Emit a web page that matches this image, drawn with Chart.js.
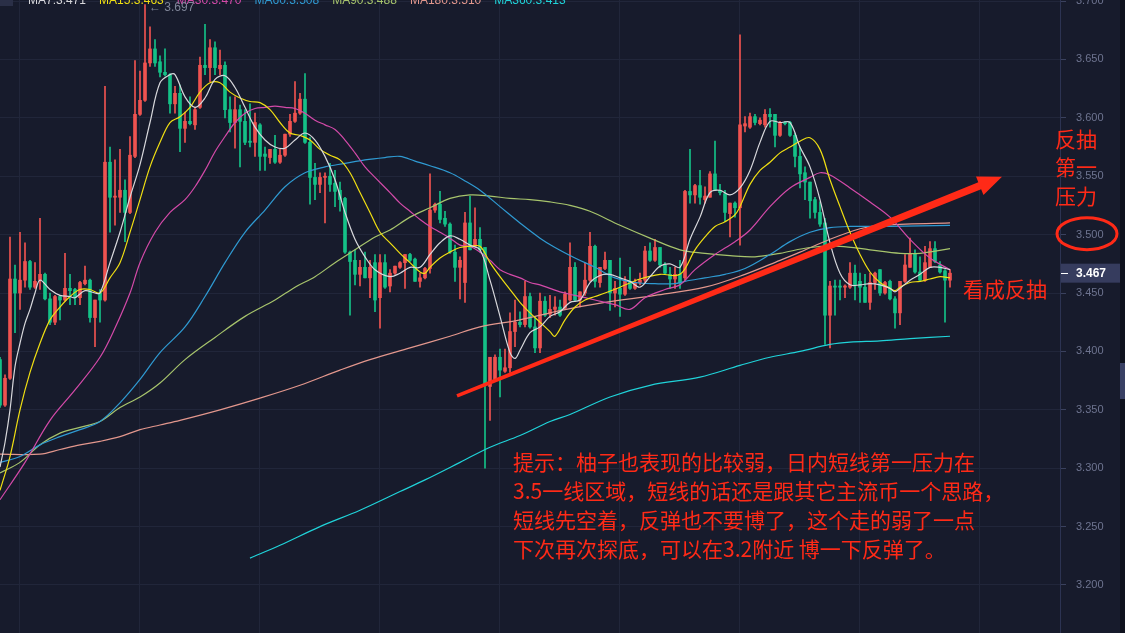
<!DOCTYPE html>
<html>
<head>
<meta charset="utf-8">
<script src="https://cdn.jsdelivr.net/npm/chart.js@4.4.0/dist/chart.umd.min.js"></script>
<style>
  html, body { margin: 0; padding: 0; background: #171b2c; overflow: hidden; }
  canvas { display: block; }
</style>
</head>
<body>
<canvas id="kline" width="1125" height="633"></canvas>
<script>
// ─── DATA ─────────────────────────────────────────────────
// one row per candle: [open, high, low, close]
const OHLC = [
  [3.393,3.395,3.352,3.354],[3.354,3.380,3.353,3.377],[3.377,3.498,3.376,3.462],[3.462,3.474,3.416,3.450],
  [3.450,3.502,3.436,3.461],[3.461,3.493,3.455,3.477],[3.477,3.478,3.453,3.455],[3.455,3.476,3.454,3.460],
  [3.461,3.514,3.453,3.466],[3.466,3.467,3.444,3.445],[3.445,3.450,3.423,3.425],[3.425,3.448,3.423,3.447],
  [3.447,3.448,3.427,3.444],[3.444,3.484,3.443,3.454],[3.454,3.466,3.440,3.452],[3.453,3.454,3.440,3.446],
  [3.446,3.460,3.440,3.459],[3.458,3.473,3.457,3.461],[3.461,3.462,3.425,3.429],[3.429,3.444,3.404,3.444],
  [3.450,3.453,3.425,3.444],[3.444,3.627,3.443,3.562],[3.562,3.575,3.502,3.532],[3.532,3.564,3.508,3.533],
  [3.532,3.573,3.519,3.538],[3.538,3.547,3.494,3.519],[3.519,3.584,3.518,3.568],[3.567,3.649,3.566,3.603],
  [3.603,3.640,3.602,3.615],[3.615,3.697,3.614,3.647],[3.647,3.678,3.644,3.659],[3.659,3.667,3.644,3.647],
  [3.648,3.653,3.635,3.639],[3.639,3.659,3.636,3.637],[3.637,3.638,3.604,3.612],[3.612,3.627,3.604,3.621],
  [3.621,3.628,3.571,3.591],[3.591,3.605,3.579,3.597],[3.597,3.618,3.594,3.595],[3.594,3.609,3.590,3.607],
  [3.609,3.652,3.608,3.645],[3.645,3.680,3.637,3.643],[3.643,3.667,3.631,3.660],[3.660,3.665,3.637,3.643],
  [3.642,3.658,3.637,3.645],[3.645,3.648,3.600,3.607],[3.607,3.618,3.588,3.596],[3.596,3.618,3.574,3.607],
  [3.607,3.611,3.558,3.597],[3.597,3.607,3.577,3.579],[3.580,3.612,3.575,3.579],[3.579,3.604,3.567,3.596],
  [3.594,3.595,3.555,3.567],[3.569,3.575,3.555,3.567],[3.566,3.573,3.561,3.573],[3.573,3.585,3.561,3.562],
  [3.562,3.573,3.561,3.568],[3.568,3.586,3.567,3.586],[3.586,3.603,3.584,3.597],[3.597,3.631,3.596,3.604],
  [3.604,3.621,3.603,3.616],[3.616,3.638,3.578,3.579],[3.579,3.583,3.526,3.549],[3.549,3.561,3.530,3.543],
  [3.543,3.553,3.536,3.549],[3.549,3.553,3.510,3.550],[3.550,3.561,3.537,3.543],[3.544,3.555,3.524,3.537],
  [3.538,3.545,3.520,3.530],[3.531,3.532,3.484,3.485],[3.485,3.486,3.431,3.477],[3.478,3.487,3.457,3.466],
  [3.466,3.478,3.456,3.472],[3.472,3.485,3.463,3.463],[3.463,3.478,3.446,3.472],[3.476,3.483,3.434,3.444],
  [3.446,3.483,3.420,3.476],[3.476,3.483,3.454,3.455],[3.456,3.470,3.451,3.467],[3.467,3.473,3.466,3.473],
  [3.472,3.477,3.471,3.476],[3.476,3.483,3.454,3.483],[3.483,3.484,3.477,3.478],[3.479,3.480,3.460,3.460],
  [3.460,3.467,3.455,3.463],[3.463,3.472,3.462,3.471],[3.471,3.552,3.467,3.521],[3.521,3.527,3.519,3.526],
  [3.526,3.537,3.510,3.513],[3.514,3.520,3.507,3.509],[3.509,3.510,3.484,3.485],[3.485,3.491,3.460,3.472],
  [3.472,3.481,3.445,3.478],[3.459,3.519,3.442,3.510],[3.510,3.533,3.487,3.487],[3.490,3.523,3.490,3.496],
  [3.496,3.506,3.485,3.487],[3.489,3.489,3.300,3.371],[3.370,3.395,3.341,3.395],[3.376,3.397,3.374,3.395],
  [3.395,3.402,3.361,3.384],[3.383,3.402,3.382,3.386],[3.386,3.433,3.382,3.417],[3.417,3.444,3.404,3.425],
  [3.425,3.434,3.421,3.423],[3.423,3.460,3.421,3.447],[3.447,3.450,3.420,3.421],[3.421,3.430,3.399,3.403],
  [3.403,3.450,3.399,3.443],[3.443,3.447,3.430,3.431],[3.432,3.448,3.429,3.436],[3.436,3.447,3.431,3.438],
  [3.438,3.444,3.430,3.431],[3.437,3.451,3.436,3.449],[3.444,3.493,3.443,3.472],[3.472,3.476,3.443,3.444],
  [3.444,3.451,3.438,3.451],[3.450,3.476,3.448,3.461],[3.461,3.502,3.460,3.490],[3.490,3.491,3.455,3.460],
  [3.459,3.472,3.455,3.472],[3.471,3.485,3.470,3.478],[3.478,3.478,3.435,3.450],[3.450,3.460,3.438,3.454],
  [3.454,3.480,3.430,3.449],[3.449,3.464,3.448,3.460],[3.460,3.472,3.453,3.454],[3.454,3.462,3.453,3.459],
  [3.459,3.467,3.457,3.461],[3.461,3.490,3.459,3.486],[3.486,3.493,3.477,3.478],[3.478,3.496,3.477,3.489],
  [3.489,3.489,3.472,3.474],[3.474,3.476,3.466,3.467],[3.466,3.472,3.454,3.462],[3.462,3.472,3.454,3.466],
  [3.466,3.478,3.454,3.459],[3.463,3.538,3.461,3.537],[3.537,3.573,3.527,3.534],[3.534,3.543,3.527,3.542],
  [3.542,3.555,3.526,3.532],[3.530,3.541,3.527,3.533],[3.532,3.554,3.532,3.552],[3.552,3.580,3.538,3.538],
  [3.538,3.543,3.534,3.536],[3.535,3.538,3.511,3.519],[3.518,3.527,3.498,3.527],[3.527,3.528,3.515,3.523],
  [3.523,3.671,3.491,3.594],[3.593,3.601,3.588,3.595],[3.592,3.604,3.591,3.601],[3.601,3.603,3.594,3.596],
  [3.595,3.600,3.594,3.598],[3.594,3.607,3.592,3.603],[3.603,3.608,3.592,3.601],[3.603,3.603,3.575,3.585],
  [3.585,3.597,3.584,3.596],[3.596,3.597,3.594,3.595],[3.596,3.597,3.584,3.585],[3.585,3.587,3.558,3.567],
  [3.567,3.575,3.540,3.552],[3.553,3.558,3.530,3.545],[3.545,3.545,3.514,3.529],[3.530,3.532,3.514,3.519],
  [3.519,3.528,3.507,3.509],[3.510,3.514,3.406,3.431],[3.431,3.460,3.403,3.456],[3.456,3.461,3.431,3.455],
  [3.456,3.461,3.444,3.455],[3.455,3.457,3.446,3.456],[3.455,3.476,3.454,3.467],[3.467,3.474,3.444,3.457],
  [3.460,3.467,3.442,3.455],[3.455,3.466,3.442,3.442],[3.442,3.467,3.436,3.459],[3.459,3.468,3.453,3.467],
  [3.470,3.470,3.448,3.450],[3.450,3.460,3.449,3.459],[3.460,3.461,3.444,3.445],[3.445,3.447,3.420,3.433],
  [3.433,3.460,3.423,3.460],[3.460,3.483,3.459,3.474],[3.472,3.497,3.472,3.484],[3.484,3.487,3.467,3.468],
  [3.468,3.481,3.460,3.461],[3.461,3.490,3.460,3.476],[3.472,3.494,3.472,3.488],[3.488,3.494,3.476,3.477],
  [3.474,3.477,3.467,3.468],[3.469,3.470,3.425,3.461],[3.461,3.470,3.455,3.467]
];

// moving averages as [candle index, value]
const MA7 = [
  [0,3.301],[1,3.322],[2,3.350],[3,3.387],[4,3.407],[5,3.424],[6,3.436],[7,3.450],[8,3.461],[10,3.453],
  [12,3.448],[14,3.447],[15,3.446],[17,3.452],[19,3.450],[20,3.450],[22,3.476],[24,3.502],[26,3.532],
  [28,3.560],[30,3.596],[32,3.630],[34,3.637],[35,3.637],[37,3.618],[39,3.609],[41,3.617],[43,3.633],
  [45,3.636],[47,3.626],[49,3.609],[51,3.592],[53,3.581],[55,3.575],[57,3.574],[59,3.581],[61,3.587],
  [63,3.581],[65,3.567],[67,3.547],[69,3.519],[71,3.496],[73,3.481],[75,3.470],[78,3.464],[80,3.467],
  [82,3.472],[84,3.472],[86,3.483],[88,3.493],[90,3.499],[92,3.496],[94,3.491],[96,3.487],[98,3.461],
  [100,3.430],[102,3.399],[103,3.394],[104,3.401],[106,3.416],[108,3.421],[110,3.430],[112,3.434],
  [114,3.442],[116,3.444],[118,3.459],[120,3.465],[122,3.466],[124,3.463],[126,3.460],[128,3.455],
  [130,3.464],[132,3.473],[134,3.475],[136,3.472],[138,3.496],[140,3.515],[142,3.536],[144,3.538],
  [146,3.534],[148,3.540],[150,3.555],[152,3.579],[154,3.597],[156,3.596],[158,3.596],[160,3.575],
  [162,3.558],[164,3.530],[166,3.493],[168,3.467],[170,3.457],[172,3.457],[174,3.458],[176,3.457],
  [178,3.454],[179,3.451],[180,3.454],[182,3.461],[184,3.466],[186,3.472],[188,3.472],[190,3.470]
];
const MA15 = [
  [0,3.281],[2,3.310],[4,3.350],[6,3.382],[8,3.407],[10,3.427],[12,3.438],[14,3.447],[16,3.453],
  [18,3.453],[20,3.450],[22,3.463],[24,3.476],[26,3.502],[28,3.530],[30,3.558],[32,3.579],[34,3.596],
  [36,3.601],[38,3.609],[40,3.622],[42,3.630],[44,3.630],[46,3.622],[48,3.617],[50,3.614],[52,3.613],
  [54,3.607],[56,3.596],[58,3.587],[60,3.585],[62,3.581],[64,3.573],[66,3.568],[68,3.564],[70,3.553],
  [72,3.536],[74,3.519],[76,3.502],[78,3.493],[80,3.484],[82,3.476],[84,3.468],[85,3.467],[86,3.472],
  [88,3.480],[90,3.485],[92,3.489],[94,3.490],[96,3.490],[98,3.476],[100,3.464],[102,3.453],[104,3.442],
  [106,3.433],[108,3.425],[110,3.417],[111,3.413],[113,3.427],[115,3.438],[117,3.444],[119,3.447],
  [121,3.450],[124,3.455],[128,3.462],[132,3.466],[136,3.466],[139,3.487],[141,3.498],[143,3.507],
  [145,3.511],[147,3.517],[148,3.524],[150,3.543],[152,3.555],[154,3.562],[156,3.570],[158,3.575],
  [160,3.580],[162,3.583],[164,3.573],[166,3.547],[168,3.524],[170,3.502],[172,3.483],[174,3.468],
  [176,3.459],[178,3.454],[179,3.452],[180,3.455],[182,3.459],[184,3.460],[186,3.462],[188,3.464],[190,3.463]
];
const MA30 = [
  [0,3.273],[5,3.305],[10,3.341],[15,3.367],[20,3.395],[23,3.420],[26,3.450],[28,3.476],[31,3.502],
  [34,3.519],[37,3.530],[39,3.541],[41,3.555],[43,3.571],[45,3.584],[47,3.596],[49,3.604],[51,3.608],
  [53,3.609],[55,3.610],[57,3.609],[59,3.608],[61,3.604],[63,3.598],[65,3.594],[67,3.590],[69,3.581],
  [71,3.570],[73,3.558],[75,3.549],[78,3.536],[80,3.527],[82,3.520],[84,3.513],[86,3.507],[88,3.502],
  [90,3.497],[92,3.491],[94,3.490],[96,3.485],[98,3.478],[100,3.470],[102,3.466],[104,3.463],[106,3.459],
  [108,3.457],[110,3.454],[112,3.451],[115,3.448],[119,3.444],[123,3.440],[126,3.436],[129,3.446],
  [133,3.453],[136,3.457],[139,3.470],[143,3.483],[147,3.494],[150,3.504],[154,3.524],[158,3.540],
  [162,3.549],[164,3.553],[166,3.551],[170,3.540],[174,3.528],[178,3.515],[182,3.496],[186,3.480],[190,3.470]
];
const MA60 = [
  [0,3.305],[4,3.310],[8,3.320],[12,3.327],[16,3.333],[20,3.340],[24,3.356],[28,3.376],[32,3.399],
  [37,3.421],[41,3.447],[45,3.476],[49,3.502],[53,3.521],[57,3.541],[61,3.553],[65,3.558],[69,3.561],
  [73,3.564],[77,3.566],[80,3.567],[83,3.563],[86,3.559],[90,3.553],[93,3.546],[96,3.538],[100,3.524],
  [104,3.510],[108,3.497],[111,3.489],[115,3.480],[119,3.472],[123,3.463],[127,3.459],[131,3.458],
  [135,3.458],[137,3.460],[141,3.463],[145,3.466],[149,3.471],[154,3.483],[158,3.494],[162,3.502],
  [166,3.506],[170,3.507],[178,3.507],[190,3.508]
];
const MA90 = [
  [0,3.296],[4,3.305],[8,3.320],[12,3.330],[16,3.335],[20,3.340],[24,3.352],[28,3.361],[32,3.373],
  [37,3.393],[43,3.412],[49,3.430],[55,3.444],[59,3.455],[63,3.464],[67,3.476],[71,3.487],[75,3.498],
  [78,3.504],[82,3.515],[86,3.523],[90,3.531],[94,3.534],[98,3.533],[102,3.531],[106,3.530],[110,3.528],
  [114,3.525],[118,3.520],[124,3.508],[130,3.497],[136,3.487],[141,3.484],[146,3.482],[151,3.481],
  [156,3.484],[162,3.489],[168,3.490],[174,3.487],[180,3.484],[184,3.484],[190,3.488]
];
const MA180 = [
  [0,3.312],[8,3.312],[12,3.316],[16,3.320],[20,3.323],[24,3.327],[28,3.333],[32,3.337],[36,3.341],
  [44,3.350],[52,3.360],[60,3.371],[68,3.384],[74,3.393],[82,3.403],[90,3.413],[96,3.421],[104,3.427],
  [112,3.435],[121,3.442],[131,3.448],[141,3.455],[149,3.466],[156,3.478],[160,3.485],[166,3.496],
  [172,3.505],[176,3.508],[190,3.510]
];
const MA360 = [
  [50,3.223],[56,3.234],[64,3.250],[72,3.264],[80,3.280],[85,3.290],[92,3.305],[98,3.318],[104,3.328],
  [110,3.340],[114,3.346],[122,3.361],[130,3.371],[140,3.378],[148,3.388],[154,3.395],[160,3.400],
  [166,3.406],[170,3.408],[176,3.409],[182,3.411],[190,3.413]
];

const MA_NAMES  = ['MA7', 'MA15', 'MA30', 'MA60', 'MA90', 'MA180', 'MA360'];
const MA_LAST   = ['3.471', '3.463', '3.470', '3.508', '3.488', '3.510', '3.413'];
const MA_DATA   = [MA7, MA15, MA30, MA60, MA90, MA180, MA360];
const MA_COLORS = ['#d8d8dc', '#f0df12', '#d44aa9', '#2f9ad2', '#a7c46c', '#e3978d', '#20d3d9'];

const Y_TICKS = [3.2, 3.25, 3.3, 3.35, 3.4, 3.45, 3.5, 3.55, 3.6, 3.65, 3.7];

// hand drawn annotations, in chart units
const TREND_FROM = [91.4, 3.362];
const TREND_TO   = [200.4, 3.5495];
const RESIST_LEVEL = 3.5;
const SIDE_NOTE  = ['反抽', '第一', '压力'];
const SIDE_NOTE2 = '看成反抽';
const NOTE_LINES = [
  '提示：柚子也表现的比较弱，日内短线第一压力在',
  '3.5一线区域，短线的话还是跟其它主流币一个思路，',
  '短线先空着，反弹也不要博了，这个走的弱了一点',
  '下次再次探底，可以在3.2附近 博一下反弹了。'
];

// ─── STYLE ────────────────────────────────────────────────
const BG    = '#171b2c';
const UP    = '#ef5350';
const DOWN  = '#14c187';
const INK   = '#ff2a17';
const GRID  = '#21263a';
const LATIN = '"Liberation Sans", Arial, sans-serif';
const CJK   = '"Noto Sans CJK SC", sans-serif';

const candleColor = (ctx) => {
  const c = OHLC[ctx.dataIndex];
  return c && c[3] >= c[0] ? UP : DOWN;
};

// no label padding: the plot fills the canvas top to bottom
const noPad = (s) => { s.paddingTop = 0; s.paddingBottom = 0; s.paddingLeft = 0; s.paddingRight = 0; };

// ─── OVERLAY PLUGIN ───────────────────────────────────────
const overlay = {
  id: 'overlay',
  beforeDraw(chart) {
    const { ctx, width, height } = chart;
    ctx.save();
    ctx.fillStyle = BG;
    ctx.fillRect(0, 0, width, height);
    ctx.restore();
  },
  afterDraw(chart) {
    const { ctx, width } = chart;
    const xs = chart.scales.x, ys = chart.scales.y;
    ctx.save();

    // dark strip at the far right + side tab
    ctx.fillStyle = '#0f121e';
    ctx.fillRect(width - 5, 0, 5, chart.height);
    ctx.fillStyle = '#394064';
    ctx.fillRect(width - 5, 363, 5, 36);

    // small close box top-left
    ctx.fillStyle = '#2a2f47';
    ctx.fillRect(0, 0, 13, 6);

    // MA legend row (cut at the top edge)
    ctx.font = '12px ' + LATIN;
    ctx.textBaseline = 'alphabetic';
    ctx.textAlign = 'left';
    let lx = 28;
    MA_NAMES.forEach((n, i) => {
      const t = n + ':' + MA_LAST[i];
      ctx.fillStyle = MA_COLORS[i];
      ctx.fillText(t, lx, 4);
      lx += ctx.measureText(t).width + 13;
    });

    // highest price marker
    let hiIdx = 0;
    OHLC.forEach((c, i) => { if (c[1] > OHLC[hiIdx][1]) hiIdx = i; });
    const hi = OHLC[hiIdx][1];
    ctx.fillStyle = '#7f8598';
    ctx.fillText('← ' + hi.toFixed(3), xs.getPixelForValue(hiIdx) + 4, ys.getPixelForValue(hi) + 6);

    // trend arrow
    const x0 = xs.getPixelForValue(TREND_FROM[0]), y0 = ys.getPixelForValue(TREND_FROM[1]);
    const x1 = xs.getPixelForValue(TREND_TO[0]),   y1 = ys.getPixelForValue(TREND_TO[1]);
    const len = Math.hypot(x1 - x0, y1 - y0);
    const dx = (x1 - x0) / len, dy = (y1 - y0) / len;
    const nx = -dy, ny = dx;
    const head = 24, hw = 10, w0 = 1.8, w1 = 3.8;
    const bx = x1 - dx * head, by = y1 - dy * head;
    ctx.fillStyle = INK;
    ctx.beginPath();
    ctx.moveTo(x0 + nx * w0, y0 + ny * w0);
    ctx.lineTo(bx + nx * w1, by + ny * w1);
    ctx.lineTo(bx + nx * hw, by + ny * hw);
    ctx.lineTo(x1, y1);
    ctx.lineTo(bx - nx * hw, by - ny * hw);
    ctx.lineTo(bx - nx * w1, by - ny * w1);
    ctx.lineTo(x0 - nx * w0, y0 - ny * w0);
    ctx.closePath();
    ctx.fill();

    // circle around 3.500
    ctx.strokeStyle = INK;
    ctx.lineWidth = 3;
    ctx.beginPath();
    ctx.ellipse(xs.right + 27, ys.getPixelForValue(RESIST_LEVEL) - 1, 30, 16, 0, 0, Math.PI * 2);
    ctx.stroke();

    // red notes
    ctx.fillStyle = INK;
    ctx.textBaseline = 'middle';
    ctx.font = '21px ' + CJK;
    SIDE_NOTE.forEach((t, i) => ctx.fillText(t, xs.right - 5, 139 + i * 28.5));
    ctx.fillText(SIDE_NOTE2, 963, 289);
    NOTE_LINES.forEach((t, i) => ctx.fillText(t, 513, 462 + i * 29));

    // last price tag
    const last = OHLC[OHLC.length - 1][3];
    const ly = ys.getPixelForValue(last);
    ctx.fillStyle = '#363c5e';
    ctx.fillRect(xs.right + 1, ly - 9.5, width - 5 - xs.right - 1, 19);
    ctx.strokeStyle = '#ffffff';
    ctx.lineWidth = 1;
    ctx.beginPath();
    ctx.moveTo(xs.right + 1, Math.round(ly) + 0.5);
    ctx.lineTo(xs.right + 8, Math.round(ly) + 0.5);
    ctx.stroke();
    ctx.fillStyle = '#ffffff';
    ctx.font = 'bold 12px ' + LATIN;
    ctx.textAlign = 'left';
    ctx.fillText(last.toFixed(3), xs.right + 16, ly + 0.5);

    ctx.restore();
  }
};

// ─── CHART ────────────────────────────────────────────────
const maSets = MA_DATA.map((d, i) => ({
  type: 'line',
  label: MA_NAMES[i],
  data: d.map(p => ({ x: p[0], y: p[1] })),
  borderColor: MA_COLORS[i],
  borderWidth: 1.2,
  pointRadius: 0,
  tension: 0.35,
  fill: false,
  order: 0,
}));

new Chart(document.getElementById('kline'), {
  type: 'bar',
  data: {
    datasets: [
      {
        label: 'wick',
        data: OHLC.map((c, i) => ({ x: i, y: [c[2], c[1]] })),
        backgroundColor: candleColor,
        barThickness: 1,
        grouped: false,
        order: 2,
      },
      {
        label: 'body',
        data: OHLC.map((c, i) => ({ x: i, y: [c[0], c[3]] })),
        backgroundColor: candleColor,
        barThickness: 3,
        minBarLength: 1,
        grouped: false,
        order: 1,
      },
      ...maSets,
    ],
  },
  options: {
    responsive: false,
    devicePixelRatio: 1,
    animation: false,
    layout: { padding: 0 },
    plugins: { legend: { display: false }, tooltip: { enabled: false } },
    scales: {
      x: {
        type: 'linear',
        min: 0,
        max: 212,
        offset: false,
        grid: { color: GRID, drawTicks: false, offset: false },
        border: { display: false },
        ticks: { display: false },
        afterBuildTicks: (s) => { s.ticks = [3.8, 27.8, 51.8, 75.8, 99.8, 123.8, 147.8, 171.8, 195.8].map(v => ({ value: v })); },
        afterFit: (s) => { s.height = 0; noPad(s); },
      },
      y: {
        position: 'right',
        min: 3.1589,
        max: 3.7009,
        grid: { color: GRID, tickColor: '#3a415e', tickLength: 6 },
        border: { display: true, color: '#2c3352' },
        ticks: {
          color: '#6e7490',
          padding: 10,
          font: { size: 11, family: LATIN },
          callback: (v) => Number(v).toFixed(3),
        },
        afterBuildTicks: (s) => { s.ticks = Y_TICKS.map(v => ({ value: v })); },
        afterFit: (s) => { s.width = 65; noPad(s); },
      },
    },
  },
  plugins: [overlay],
});
</script>
</body>
</html>
